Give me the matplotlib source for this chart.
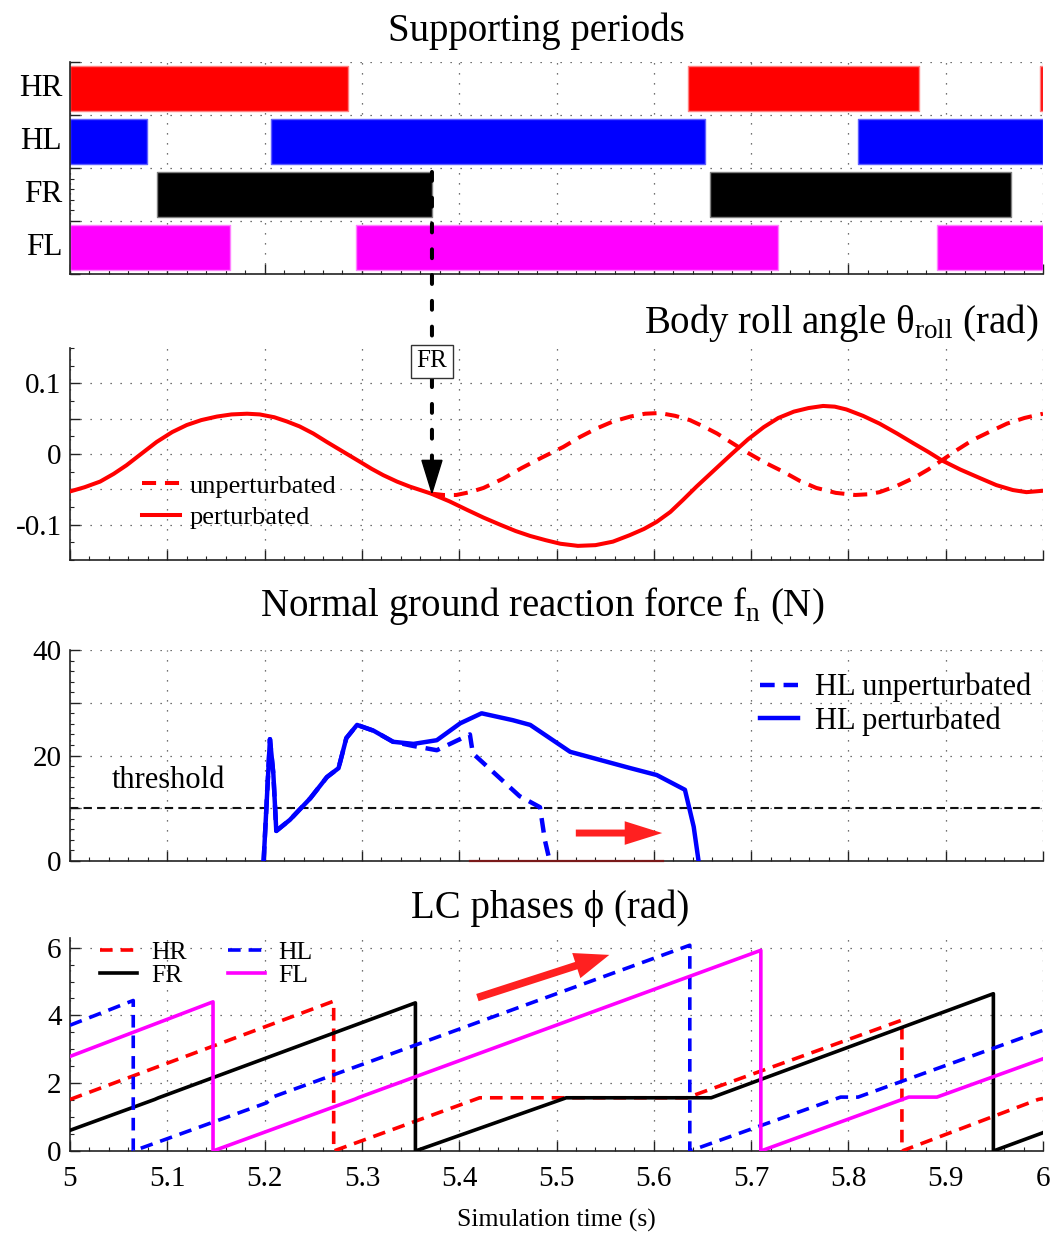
import matplotlib
matplotlib.use("Agg")
import matplotlib.pyplot as plt
from matplotlib.patches import ConnectionPatch, FancyArrowPatch, Polygon
from matplotlib.ticker import MultipleLocator, FixedLocator, FuncFormatter
from matplotlib.transforms import blended_transform_factory

plt.rcParams['font.family'] = ['Liberation Serif', 'DejaVu Serif']
plt.rcParams['mathtext.fontset'] = 'custom'
plt.rcParams['mathtext.rm'] = 'Liberation Serif'
plt.rcParams['mathtext.it'] = 'Liberation Serif'
plt.rcParams['axes.unicode_minus'] = False

# ---------------- data ----------------
legs = ['HR', 'HL', 'FR', 'FL']
leg_colors = {'HR': '#ff0000', 'HL': '#0000ff', 'FR': '#000000', 'FL': '#ff00ff'}
leg_edges = {'HR': '#ff8080', 'HL': '#6060ff', 'FR': '#808080', 'FL': '#ff80ff'}

# stance (ground contact) intervals, seconds
stance_HR = [(5.000, 5.286), (5.635, 5.873), (5.997, 6.000)]
stance_HL = [(5.000, 5.079), (5.207, 5.653), (5.810, 6.000)]
stance_FR = [(5.089, 5.372), (5.658, 5.967)]
stance_FL = [(5.000, 5.164), (5.294, 5.728), (5.891, 6.000)]

# body roll angle (rad)
roll_t_pert = [5.000, 5.015, 5.031, 5.045, 5.058, 5.073, 5.089, 5.105, 5.120, 5.135,
               5.151, 5.166, 5.182, 5.195, 5.210, 5.223, 5.236, 5.250, 5.264, 5.281,
               5.298, 5.310, 5.322, 5.336, 5.349, 5.360, 5.371, 5.390, 5.408, 5.425,
               5.442, 5.458, 5.473, 5.489, 5.504, 5.522, 5.540, 5.558, 5.575, 5.590,
               5.603, 5.617, 5.630, 5.644, 5.662, 5.680, 5.697, 5.713, 5.728, 5.744,
               5.759, 5.774, 5.786, 5.798, 5.815, 5.832, 5.850, 5.867, 5.882, 5.896,
               5.915, 5.935, 5.952, 5.969, 5.983, 6.000]
roll_pert = [-0.053, -0.047, -0.039, -0.028, -0.016, 0.000, 0.017, 0.031, 0.041, 0.048,
             0.053, 0.056, 0.057, 0.056, 0.052, 0.046, 0.039, 0.029, 0.017, 0.003,
             -0.011, -0.021, -0.030, -0.039, -0.046, -0.051, -0.056, -0.067, -0.079, -0.090,
             -0.100, -0.109, -0.116, -0.122, -0.127, -0.130, -0.129, -0.124, -0.115, -0.106,
             -0.096, -0.082, -0.065, -0.046, -0.023, 0.000, 0.021, 0.038, 0.051, 0.060,
             0.065, 0.068, 0.067, 0.063, 0.054, 0.043, 0.029, 0.015, 0.003, -0.009,
             -0.022, -0.034, -0.044, -0.051, -0.054, -0.052]
roll_t_unpert = [5.371, 5.384, 5.397, 5.411, 5.425, 5.445, 5.464, 5.485, 5.507, 5.524,
                 5.541, 5.558, 5.576, 5.591, 5.606, 5.622, 5.637, 5.651, 5.665, 5.680,
                 5.695, 5.714, 5.733, 5.750, 5.767, 5.787, 5.807, 5.820, 5.832, 5.850,
                 5.867, 5.882, 5.896, 5.912, 5.928, 5.946, 5.963, 5.981, 6.000]
roll_unpert = [-0.056, -0.058, -0.058, -0.054, -0.048, -0.035, -0.020, -0.005, 0.010, 0.024,
               0.036, 0.046, 0.053, 0.057, 0.058, 0.054, 0.048, 0.039, 0.029, 0.016,
               0.003, -0.012, -0.025, -0.038, -0.048, -0.055, -0.058, -0.057, -0.054, -0.045,
               -0.034, -0.022, -0.009, 0.006, 0.020, 0.032, 0.043, 0.051, 0.057]

# normal ground reaction force of the HL leg (N)
fn_t_pert = [5.199, 5.2055, 5.209, 5.212, 5.226, 5.247, 5.264, 5.276, 5.284, 5.295,
             5.312, 5.332, 5.353, 5.377, 5.401, 5.423, 5.455, 5.473, 5.514, 5.576,
             5.603, 5.632, 5.641, 5.646]
fn_pert = [0.0, 23.1, 16.5, 5.7, 7.8, 11.9, 15.9, 17.6, 23.3, 25.8,
           24.7, 22.6, 22.2, 22.9, 26.1, 28.0, 26.7, 25.8, 20.7, 17.6,
           16.3, 13.5, 6.5, 0.0]
fn_t_unpert = [5.199, 5.2055, 5.209, 5.212, 5.226, 5.247, 5.264, 5.276, 5.284, 5.295,
               5.312, 5.332, 5.353, 5.377, 5.411, 5.414, 5.462, 5.483, 5.488, 5.493]
fn_unpert = [0.0, 23.1, 16.5, 5.7, 7.8, 11.9, 15.9, 17.6, 23.3, 25.8,
             24.7, 22.6, 21.8, 21.0, 24.0, 20.4, 12.3, 10.2, 4.0, 0.0]
fn_threshold = 10.0
fn_zero_t = [5.411, 5.609]
fn_zero = [0.0, 0.0]

# limit-cycle phases (rad)
ph_t_HR = [5.000, 5.271, 5.271, 5.421, 5.634, 5.855, 5.855, 5.995, 6.000]
ph_HR = [1.52, 4.42, 0.00, 1.57, 1.57, 3.86, 0.00, 1.52, 1.55]
ph_t_HL = [5.000, 5.065, 5.065, 5.202, 5.209, 5.637, 5.637, 5.792, 5.810, 6.000]
ph_HL = [3.71, 4.44, 0.00, 1.42, 1.60, 6.07, 0.00, 1.59, 1.59, 3.56]
ph_t_FR = [5.000, 5.087, 5.091, 5.355, 5.355, 5.510, 5.659, 5.949, 5.949, 6.000]
ph_FR = [0.61, 1.52, 1.57, 4.37, 0.00, 1.57, 1.57, 4.64, 0.00, 0.54]
ph_t_FL = [5.000, 5.147, 5.147, 5.293, 5.297, 5.710, 5.710, 5.862, 5.891, 6.000]
ph_FL = [2.79, 4.40, 0.00, 1.53, 1.58, 5.92, 0.00, 1.59, 1.59, 2.72]

# annotation anchors
fr_liftoff = 5.372
fr_roll = -0.055
shift_arrow_force = ((5.517, 5.3), (5.6115, 5.3))
shift_arrow_phase = ((5.416, 4.50), (5.557, 5.81))

x_ticks = [5.0, 5.1, 5.2, 5.3, 5.4, 5.5, 5.6, 5.7, 5.8, 5.9, 6.0]

# ---------------- figure ----------------
W, H = 1060, 1235
fig = plt.figure(figsize=(W / 100, H / 100), dpi=100)


def panel(top, bottom):
    return fig.add_axes([70 / W, 1 - bottom / H, 973 / W, (bottom - top) / H])


grid_kw = dict(linestyle=(0, (1, 7)), linewidth=0.9, color='#444444')


def style(ax):
    for s in ('top', 'right'):
        ax.spines[s].set_visible(False)
    for s in ('left', 'bottom'):
        ax.spines[s].set_linewidth(1.2)
        ax.spines[s].set_color('#222222')
    ax.set_xlim(5, 6)
    ax.xaxis.set_major_locator(FixedLocator(x_ticks))
    ax.xaxis.set_minor_locator(MultipleLocator(0.02))
    ax.tick_params(which='both', direction='in', top=False, right=False,
                   labelsize=21, color='#222222')
    ax.tick_params(which='major', length=7, width=1.0)
    ax.tick_params(which='minor', length=3, width=0.8)
    ax.tick_params(axis='y', pad=6)
    ax.grid(True, which='major', **grid_kw)
    ax.set_axisbelow(True)
    ax.tick_params(axis='x', labelbottom=False)


ax0 = panel(62, 274)
ax1 = panel(348, 560)
ax2 = panel(650, 861)
ax3 = panel(938, 1151)
for a in (ax0, ax1, ax2, ax3):
    style(a)

# --- supporting periods ---
stances = {'HR': stance_HR, 'HL': stance_HL, 'FR': stance_FR, 'FL': stance_FL}
row = {'HR': 3, 'HL': 2, 'FR': 1, 'FL': 0}
for leg in legs:
    ax0.broken_barh([(s, e - s) for s, e in stances[leg]], (row[leg] + 0.075, 0.85),
                    facecolors=leg_colors[leg], edgecolors=leg_edges[leg],
                    linewidth=1.0, zorder=2)
ax0.set_ylim(0, 4)
ax0.yaxis.set_major_locator(MultipleLocator(1))
ax0.yaxis.set_minor_locator(MultipleLocator(0.2))
ax0.set_yticklabels([])
tr = blended_transform_factory(ax0.transAxes, ax0.transData)
for leg in legs:
    ax0.text(-0.008, row[leg] + 0.5, leg, transform=tr, ha='right', va='center',
             fontsize=22.5)

# --- body roll angle ---
ax1.plot(roll_t_unpert, roll_unpert, color='#ff0000', lw=2.9,
         linestyle=(0, (3.5, 2.2)), label='unperturbated', zorder=3)
ax1.plot(roll_t_pert, roll_pert, color='#ff0000', lw=2.9, label='perturbated', zorder=3)
ax1.set_ylim(-0.15, 0.15)
ax1.yaxis.set_major_locator(FixedLocator([-0.1, -0.05, 0.0, 0.05, 0.1]))
ax1.yaxis.set_minor_locator(MultipleLocator(0.025))
roll_labels = {-0.1: '-0.1', 0.0: '0', 0.1: '0.1'}
ax1.yaxis.set_major_formatter(FuncFormatter(
    lambda v, p: roll_labels.get(round(v, 3), '')))
ax1.legend(loc='center left', bbox_to_anchor=(0.0737, 0.276), frameon=False,
           fontsize=19, handlelength=1.45, handletextpad=0.38, labelspacing=0.3,
           borderpad=0, borderaxespad=0)

# --- normal ground reaction force ---
ax2.plot(fn_t_unpert, fn_unpert, color='#0000ff', lw=3.2,
         linestyle=(0, (3.3, 2.0)), label='HL unperturbated', zorder=3)
ax2.plot(fn_t_pert, fn_pert, color='#0000ff', lw=3.2, label='HL perturbated', zorder=3)
ax2.axhline(fn_threshold, color='#111111', lw=1.5, linestyle=(0, (4, 2.5)), zorder=2)
ax2.plot(fn_zero_t, fn_zero, color='#7a1a1a', lw=1.6, zorder=4, clip_on=False)
ax2.text(5.043, 15.2, 'threshold', fontsize=22, ha='left', va='center')
ax2.set_ylim(0, 40)
ax2.yaxis.set_major_locator(MultipleLocator(10))
ax2.yaxis.set_minor_locator(MultipleLocator(2))
ax2.yaxis.set_major_formatter(FuncFormatter(
    lambda v, p: f'{v:g}' if round(v) % 20 == 0 else ''))
ax2.legend(loc='center left', bbox_to_anchor=(0.709, 0.743), frameon=False,
           fontsize=22, handlelength=1.25, handletextpad=0.55, labelspacing=0.12,
           borderpad=0, borderaxespad=0)
ax2.add_patch(FancyArrowPatch(*shift_arrow_force,
                              arrowstyle='simple,head_length=2.7,head_width=1.7,tail_width=0.5',
                              mutation_scale=10, color='#ff2020', lw=0, zorder=5))

# --- LC phases ---
ax3.plot(ph_t_HR, ph_HR, color='#ff0000', lw=2.6, linestyle=(0, (3.5, 2.2)), label='HR', zorder=3)
ax3.plot(ph_t_FR, ph_FR, color='#000000', lw=2.6, label='FR', zorder=3)
ax3.plot(ph_t_HL, ph_HL, color='#0000ff', lw=2.6, linestyle=(0, (3.5, 2.2)), label='HL', zorder=3)
ax3.plot(ph_t_FL, ph_FL, color='#ff00ff', lw=2.6, label='FL', zorder=3)
ax3.set_ylim(0, 6.2832)
ax3.yaxis.set_major_locator(FixedLocator([0, 2, 4, 6]))
ax3.yaxis.set_minor_locator(MultipleLocator(0.5))
ax3.tick_params(axis='x', labelbottom=True, pad=11)
ax3.xaxis.set_major_formatter(FuncFormatter(lambda v, p: f'{v:g}'))
ax3.set_xlabel('Simulation time (s)', fontsize=18.5, labelpad=12)
ax3.legend(loc='center left', bbox_to_anchor=(0.031, 0.879), ncol=2, frameon=False,
           fontsize=18.5, handlelength=1.45, handletextpad=0.53, labelspacing=0.02,
           columnspacing=1.6, borderpad=0, borderaxespad=0)
ax3.add_patch(FancyArrowPatch(*shift_arrow_phase,
                              arrowstyle='simple,head_length=2.5,head_width=1.9,tail_width=0.55',
                              mutation_scale=10, color='#ff2020', lw=0, zorder=5))

# --- FR lift-off marker running from the stance bars to the roll curve ---
head_top = fr_roll + 0.046
con = ConnectionPatch(xyA=(fr_liftoff, 1.925), coordsA=ax0.transData,
                      xyB=(fr_liftoff, head_top), coordsB=ax1.transData,
                      color='k', lw=2.9, linestyle=(0, (2.2, 4.2)), zorder=6)
fig.add_artist(con)
ax1.add_patch(Polygon([(fr_liftoff - 0.0103, head_top), (fr_liftoff + 0.0103, head_top),
                       (fr_liftoff, fr_roll)], closed=True, color='k', zorder=6))
fig.text(fr_liftoff, 0.131, 'FR', transform=ax1.transData, ha='center', va='center',
         fontsize=18, zorder=8,
         bbox=dict(boxstyle='square,pad=0.22', fc='white', ec='#333333', lw=1.0))

# --- panel titles ---
fig.text(536 / W, 1 - 41 / H, 'Supporting periods', ha='center', va='baseline', fontsize=28)
fig.text(1038 / W, 1 - 333 / H, r'Body roll angle $\theta_{\mathrm{roll}}$ (rad)',
         ha='right', va='baseline', fontsize=28)
fig.text(542 / W, 1 - 616 / H, r'Normal ground reaction force $f_{\mathrm{n}}$ (N)',
         ha='center', va='baseline', fontsize=28)
fig.text(550 / W, 1 - 918 / H, 'LC phases ϕ (rad)', ha='center', va='baseline', fontsize=28)

fig.savefig('out.png', dpi=100)
